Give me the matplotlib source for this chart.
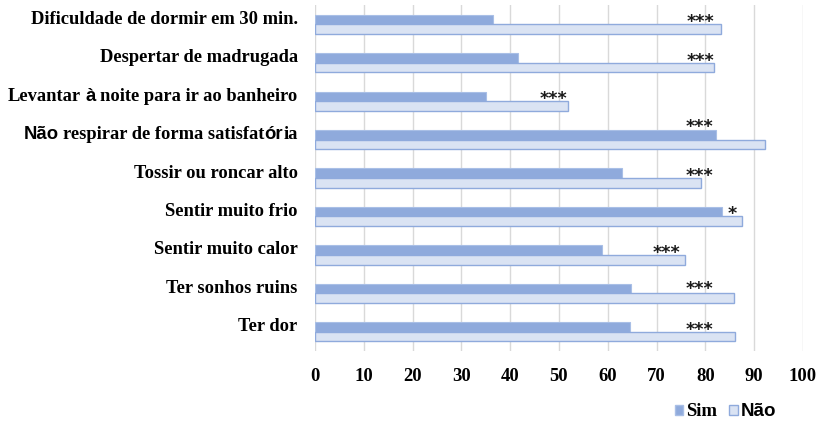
import matplotlib
matplotlib.use("Agg")
import matplotlib.pyplot as plt
import numpy as np
from matplotlib.font_manager import FontProperties
from matplotlib.offsetbox import TextArea, HPacker, DrawingArea, AnnotationBbox
from matplotlib.patches import Patch

# --- data -------------------------------------------------------------
categories = [
    "Dificuldade de dormir em 30 min.",
    "Despertar de madrugada",
    "Levantar à noite para ir ao banheiro",
    "Não respirar de forma satisfatória",
    "Tossir ou roncar alto",
    "Sentir muito frio",
    "Sentir muito calor",
    "Ter sonhos ruins",
    "Ter dor",
]
sim = [36.4, 41.5, 35.1, 82.2, 62.9, 83.5, 58.9, 64.8, 64.5]
nao = [83.1, 81.8, 51.8, 92.2, 79.0, 87.5, 75.8, 85.8, 86.0]
significance = ["***", "***", "***", "***", "***", "*", "***", "***", "***"]
series_names = ["Sim", "Não"]
xticks = [0, 10, 20, 30, 40, 50, 60, 70, 80, 90, 100]

# placement of each significance mark: value-axis position and
# baseline shift (in category units) relative to the category centre
sig_x = [78.9, 78.9, 48.8, 78.7, 78.7, 85.4, 72.1, 78.7, 78.7]
sig_dy = [0.070, 0.095, 0.070, -0.200, 0.078, 0.070, 0.092, 0.010, 0.078]
# pieces of text that are set in the sans face inside the labels
sans_runs = ["Não", "à", "ór"]

# --- styles -----------------------------------------------------------
SIM_FACE = "#8FAADC"
SIM_EDGE = "#A9BFE6"
NAO_FACE = "#DAE3F3"
NAO_EDGE = "#8FAADC"
GRID = "#D9D9D9"
FS = 13.3


def serif(size=FS):
    return FontProperties(family="Liberation Serif", weight="bold", size=size)


def sans(size=FS):
    return FontProperties(family="Liberation Sans", weight="bold", size=size)


space_pt = 0.25 * FS


def split_runs(label):
    """Split a label into (text, is_sans) runs."""
    runs = []
    i = 0
    buf = ""
    while i < len(label):
        hit = None
        for r in sans_runs:
            if label.startswith(r, i):
                hit = r
                break
        if hit:
            if buf:
                runs.append((buf, False))
                buf = ""
            runs.append((hit, True))
            i += len(hit)
        else:
            buf += label[i]
            i += 1
    if buf:
        runs.append((buf, False))
    return runs


def label_box(label):
    children = []
    for text, is_sans in split_runs(label):
        fp = sans() if is_sans else serif()
        core = text.strip(" ")
        if text.startswith(" "):
            children.append(DrawingArea(space_pt, 0))
        if core:
            children.append(TextArea(core, textprops=dict(fontproperties=fp, color="black")))
        if text.endswith(" "):
            children.append(DrawingArea(space_pt, 0))
    return HPacker(children=children, align="baseline", pad=0, sep=0)


fig = plt.figure(figsize=(8.19, 4.26), dpi=100)
ax = fig.add_axes([315 / 819, 1 - 351 / 426, 488 / 819, 346 / 426])

y = np.arange(len(categories))
h = 0.25
ax.barh(y - h / 2, sim, height=h, color=SIM_FACE, edgecolor=SIM_EDGE, linewidth=0.8, zorder=3)
ax.barh(y + h / 2, nao, height=h, color=NAO_FACE, edgecolor=NAO_EDGE, linewidth=1.0, zorder=3)

ax.set_xlim(0, 100)
ax.set_ylim(len(categories) - 0.5, -0.5)
ax.set_xticks(xticks)
ax.set_xticklabels([str(t) for t in xticks], fontproperties=serif(13.4))
ax.set_yticks([])
ax.tick_params(axis="x", length=0, pad=12)
ax.grid(axis="x", color=GRID, linewidth=1.0, zorder=0)
for s in ax.spines.values():
    s.set_visible(False)

# category labels (mixed faces)
for i, lab in enumerate(categories):
    ab = AnnotationBbox(label_box(lab), xy=(0, i), xycoords="data",
                        xybox=(-12.5, 3.6), boxcoords="offset points",
                        box_alignment=(1, 0.5), frameon=False, pad=0,
                        annotation_clip=False)
    ax.add_artist(ab)

# significance marks
for i, (mark, xv, dy) in enumerate(zip(significance, sig_x, sig_dy)):
    ax.text(xv, i + dy, mark, ha="center", va="baseline",
            family="DejaVu Sans", fontweight="bold", fontsize=12.5,
            color="#1a1a1a", zorder=4)

handles = [Patch(facecolor=SIM_FACE, edgecolor=SIM_EDGE),
           Patch(facecolor=NAO_FACE, edgecolor=NAO_EDGE)]
leg = fig.legend(handles, series_names, loc="center", bbox_to_anchor=(0.886, 0.033),
                 ncol=2, frameon=False, handlelength=0.45, handleheight=0.45,
                 handletextpad=0.15, columnspacing=0.65, prop=serif(13.5))
t_sim, t_nao = leg.get_texts()
t_sim.set_fontfamily("Liberation Serif")
t_sim.set_fontweight("bold")
t_nao.set_fontfamily("Liberation Sans")
t_nao.set_fontweight("bold")

fig.savefig("out.png", dpi=100)
